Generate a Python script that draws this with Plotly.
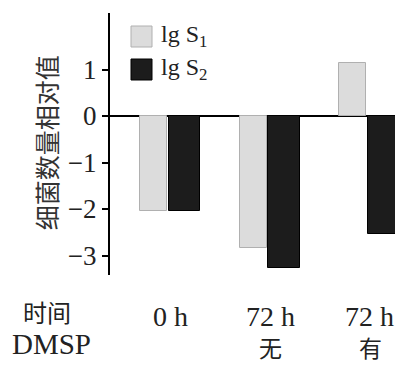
import plotly.graph_objects as go

# Bacterial count (relative, log scale) per sampling condition
groups = ["0 h", "72 h", "72 h"]
dmsp = ["", "无", "有"]
lg_s1 = [-2.05, -2.84, 1.14]
lg_s2 = [-2.05, -3.27, -2.54]
series_names = ["lg S<sub>1</sub>", "lg S<sub>2</sub>"]
y_ticks = [1, 0, -1, -2, -3]

SERIF = "Liberation Serif"
CJK = "Noto Sans CJK SC"
LIGHT = "#dcdcdc"
DARK = "#1c1c1c"
TEXT = "#222222"

xpos = list(range(len(groups)))

fig = go.Figure()
fig.add_trace(go.Bar(
    x=xpos, y=lg_s1, offset=-0.29, width=0.27,
    marker=dict(color=LIGHT, line=dict(color="#b0b0b0", width=1)),
    showlegend=False,
))
fig.add_trace(go.Bar(
    x=xpos, y=lg_s2, offset=-0.005, width=0.32,
    marker=dict(color=DARK, line=dict(color="#000000", width=1)),
    showlegend=False,
))

fig.update_layout(
    width=395, height=365,
    margin=dict(l=110, r=0, t=13, b=90),
    paper_bgcolor="white", plot_bgcolor="white",
    bargap=0,
    xaxis=dict(range=[-0.593, 2.271], showticklabels=False, showgrid=False,
               zeroline=False, showline=False, ticks=""),
    yaxis=dict(range=[-3.419, 2.215], tickvals=y_ticks,
               ticktext=[str(v).replace("-", "\u2212") for v in y_ticks],
               showgrid=False, showline=True, linecolor="black", linewidth=2,
               ticks="outside", ticklen=6, tickwidth=1.5, tickcolor="black",
               zeroline=True, zerolinecolor="black", zerolinewidth=2,
               tickfont=dict(family=SERIF, size=27, color=TEXT)),
    font=dict(family=SERIF, color=TEXT),
)

# Axis title
fig.add_annotation(text="细菌数量相对值", textangle=-90, showarrow=False,
                   xref="paper", yref="paper", x=-0.226, y=0.505,
                   xanchor="center", yanchor="middle",
                   font=dict(family=CJK, size=25, color="#333"))

# Category labels below the plot
fig.add_annotation(text="时间", showarrow=False, xref="paper", yref="paper",
                   x=-0.222, y=-0.138, xanchor="center", yanchor="middle",
                   font=dict(family=CJK, size=24, color=TEXT))
fig.add_annotation(text="DMSP", showarrow=False, xref="paper", yref="paper",
                   x=-0.205, y=-0.262, xanchor="center", yanchor="middle",
                   font=dict(family=SERIF, size=29, color=TEXT))
for xi, g, d in zip(xpos, groups, dmsp):
    fig.add_annotation(text=g, showarrow=False, x=xi + 0.015, xref="x",
                       yref="paper", y=-0.158, xanchor="center", yanchor="middle",
                       font=dict(family=SERIF, size=28, color=TEXT))
    if d:
        fig.add_annotation(text=d, showarrow=False, x=xi + 0.02, xref="x",
                           yref="paper", y=-0.276, xanchor="center", yanchor="middle",
                           font=dict(family=CJK, size=23, color=TEXT))

# Legend drawn as swatches with labels
swatch_colors = [(LIGHT, "#b0b0b0"), (DARK, "#000000")]
for i, (name, (fill, edge)) in enumerate(zip(series_names, swatch_colors)):
    y0 = 13 + i * 33
    fig.add_shape(type="rect", xref="paper", yref="paper",
                  x0=(131 - 110) / 285, x1=(152 - 110) / 285,
                  y0=(352 - (y0 + 21) - 90) / 262, y1=(352 - y0 - 90) / 262,
                  fillcolor=fill, line=dict(color=edge, width=1))
    fig.add_annotation(text=name, showarrow=False, xref="paper", yref="paper",
                       x=(159 - 110) / 285, y=(352 - (y0 + 10) - 90) / 262,
                       xanchor="left", yanchor="middle",
                       font=dict(family=SERIF, size=24, color=TEXT))

fig.write_html("out.html")
